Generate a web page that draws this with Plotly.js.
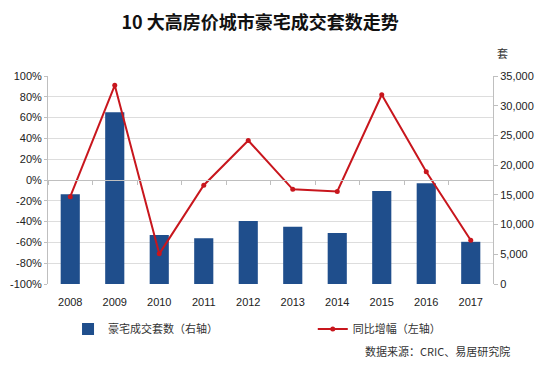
<!DOCTYPE html>
<html>
<head>
<meta charset="utf-8">
<script src="https://cdn.plot.ly/plotly-3.0.1.min.js"></script>
<style>html,body{margin:0;padding:0;background:#fff;}#chart{width:550px;height:373px;}</style>
</head>
<body>
<div id="chart"></div>
<script>
const years = ['2008','2009','2010','2011','2012','2013','2014','2015','2016','2017'];
const luxurySales = [15100, 28900, 8250, 7700, 10600, 9650, 8600, 15650, 16950, 7100];
const yoyGrowth = [-0.16, 0.91, -0.71, -0.05, 0.38, -0.09, -0.11, 0.82, 0.08, -0.58];
const leftTickVals = [-1, -0.8, -0.6, -0.4, -0.2, 0, 0.2, 0.4, 0.6, 0.8, 1];
const leftTickText = ['-100%', '-80%', '-60%', '-40%', '-20%', '0%', '20%', '40%', '60%', '80%', '100%'];
const barName = '豪宅成交套数（右轴）';
const lineName = '同比增幅（左轴）';
const titleText = '10 大高房价城市豪宅成交套数走势';
const unitText = '套';
const sourceText = '数据来源：CRIC、易居研究院';

const tickFont = {family: 'Liberation Sans, Arial, sans-serif', size: 11, color: '#222'};
const cjk = 'Noto Sans CJK SC, sans-serif';

const traces = [
  {
    type: 'bar', x: years, y: luxurySales, name: barName,
    xaxis: 'x', yaxis: 'y', width: 0.43,
    marker: {color: '#1F4E8C'}, legend: 'legend'
  },
  {
    type: 'scatter', mode: 'lines+markers', x: years, y: yoyGrowth, name: lineName,
    xaxis: 'x2', yaxis: 'y2',
    line: {color: '#C8161D', width: 2},
    marker: {color: '#C8161D', size: 5}, legend: 'legend2'
  }
];

const layout = {
  width: 550, height: 373,
  margin: {l: 48, r: 57, t: 76, b: 89},
  paper_bgcolor: '#fff', plot_bgcolor: '#fff',
  showlegend: true,
  title: {text: titleText, x: 0.473, xanchor: 'center', xref: 'container', y: 0.94, yanchor: 'middle', yref: 'container',
          font: {family: cjk, size: 18, color: '#111', weight: 'bold'}},
  xaxis: {
    type: 'category', range: [-0.5, 9.5], showline: false, ticks: '', showgrid: false,
    tickfont: tickFont, ticklabelstandoff: 10
  },
  xaxis2: {
    type: 'category', range: [-0.5, 9.5], overlaying: 'x', anchor: 'free', position: 0.5,
    showline: true, linecolor: '#BFBFBF', linewidth: 1, showticklabels: false,
    ticks: 'outside', tickson: 'boundaries', ticklen: 4, tickcolor: '#BFBFBF', showgrid: false
  },
  yaxis: {
    range: [0, 35000], dtick: 5000, tickformat: ',d', side: 'right',
    showline: true, linecolor: '#BFBFBF', linewidth: 1,
    ticks: 'outside', ticklen: 4, tickcolor: '#BFBFBF', showgrid: false, zeroline: false,
    tickfont: tickFont
  },
  yaxis2: {
    range: [-1, 1], tickmode: 'array', tickvals: leftTickVals, ticktext: leftTickText,
    overlaying: 'y', side: 'left',
    showline: true, linecolor: '#BFBFBF', linewidth: 1,
    ticks: 'outside', ticklen: 3, tickcolor: '#BFBFBF',
    showgrid: true, gridcolor: '#DDDDDD', gridwidth: 1, zeroline: false,
    tickfont: tickFont
  },
  legend: {orientation: 'h', x: 0.045, xanchor: 'left', y: -0.216, yanchor: 'middle',
           font: {family: cjk, size: 11, color: '#333'}, bgcolor: 'rgba(0,0,0,0)'},
  legend2: {orientation: 'h', x: 0.595, xanchor: 'left', y: -0.216, yanchor: 'middle',
           font: {family: cjk, size: 11, color: '#333'}, bgcolor: 'rgba(0,0,0,0)'},
  annotations: [
    {text: unitText, xref: 'paper', yref: 'paper', x: 1.0, y: 1.11, xanchor: 'left', xshift: 2, yanchor: 'middle',
     showarrow: false, font: {family: cjk, size: 11, color: '#333'}},
    {text: sourceText, xref: 'paper', yref: 'paper', x: 1.042, y: -0.32, xanchor: 'right', yanchor: 'middle',
     showarrow: false, font: {family: cjk, size: 11, color: '#333'}}
  ]
};

Plotly.newPlot('chart', traces, layout, {displayModeBar: false, staticPlot: true});
</script>
</body>
</html>
